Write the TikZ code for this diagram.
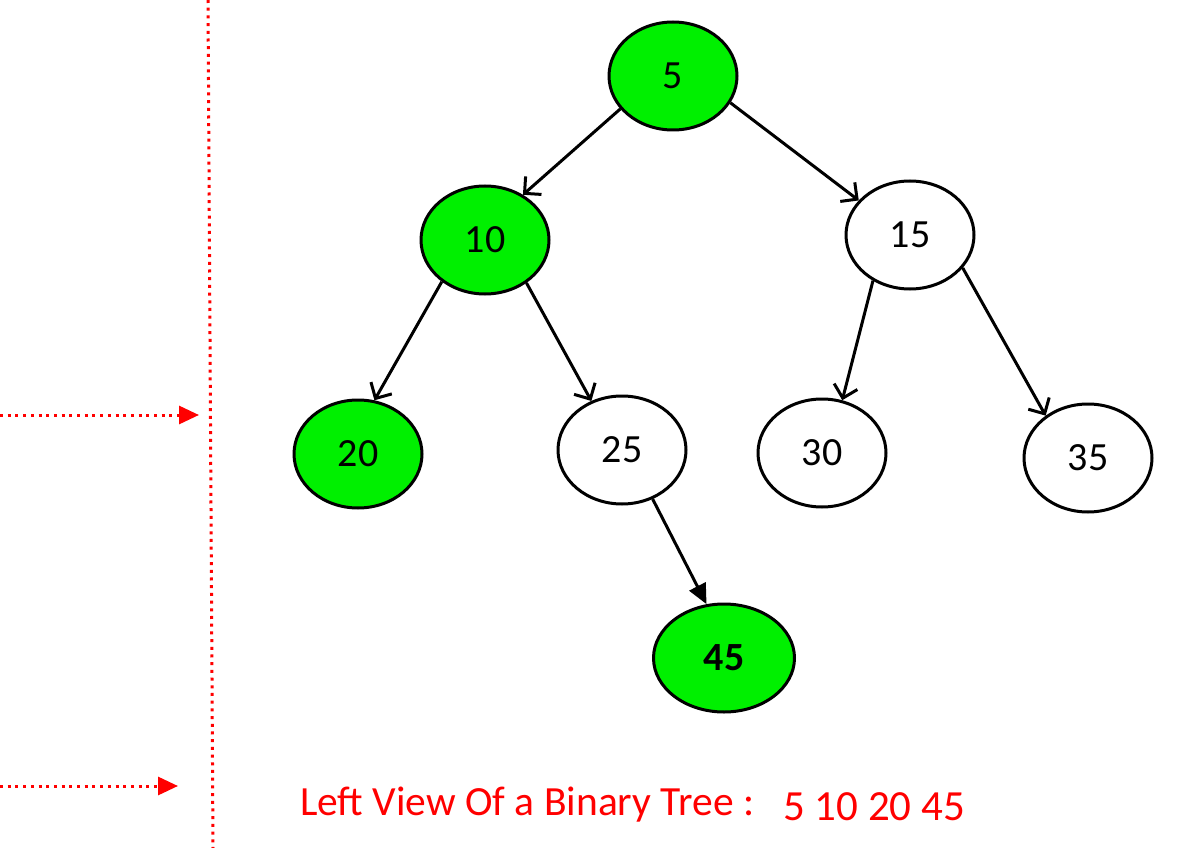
\documentclass[tikz,border=0pt]{standalone}
\usepackage{fontspec}
\setmainfont{Carlito}
\usetikzlibrary{shapes.geometric,arrows.meta}
\definecolor{nodegreen}{RGB}{0,240,0}
\definecolor{viewred}{RGB}{255,0,0}
\tikzset{
  treenode/.style={ellipse, draw=black, line width=3pt, minimum width=128pt, minimum height=108pt, inner sep=0pt, font=\fontsize{40}{44}\selectfont},
  seen/.style={treenode, fill=nodegreen},
  unseen/.style={treenode, fill=white},
  edge/.style={line width=3pt, -{Straight Barb[length=12pt,width=24pt]}},
  solidedge/.style={line width=3pt, -{Triangle[length=20pt,width=18pt]}},
  reddots/.style={viewred, line width=3pt, dash pattern=on 3pt off 4.7pt},
  redarrow/.style={reddots, -{Triangle[length=20pt,width=18pt]}},
}
\begin{document}
\begin{tikzpicture}[x=1pt,y=-1pt]
\useasboundingbox (0,0) rectangle (1192,848);
% tree nodes
\node[seen]   (n5)  at (673,76)  {5};
\node[seen]   (n10) at (485,240) {10};
\node[unseen] (n15) at (910,235) {15};
\node[seen]   (n20) at (358,454) {20};
\node[unseen] (n25) at (622,450) {25};
\node[unseen] (n30) at (822,453) {30};
\node[unseen] (n35) at (1088,458) {35};
\node[seen, minimum width=141pt, font=\fontsize{40}{44}\selectfont\bfseries] (n45) at (724,658) {45};
% edges
\draw[edge] (n5.212) -- (n10.50);
\draw[edge] (n5.335) -- (n15.146);
\draw[edge] (n10.224) -- (n20.73);
\draw[edge] (n10.314) -- (n25.122);
\draw[edge] (n15.231) -- (n30.69);
\draw[edge] (n15.328) -- (n35.135);
\draw[solidedge] (n25.302) -- (n45.108);
% red dotted guides
\coordinate (vtop) at (208,0);
\coordinate (vbot) at (213,848);
\draw[reddots] (vtop) -- (vbot);
\coordinate (a1s) at (0,415);
\coordinate (a1e) at (199,415);
\coordinate (a2s) at (0,786);
\coordinate (a2e) at (178,786);
\draw[redarrow] (a1s) -- (a1e);
\draw[redarrow] (a2s) -- (a2e);
% caption
\node[anchor=base west, inner sep=0pt, text=viewred, font=\fontsize{41.5}{44}\selectfont] (cap) at (300,815) {Left View Of a Binary Tree :};
\node[anchor=base west, inner sep=0pt, text=viewred, font=\fontsize{43}{46}\selectfont] (res) at (783,820) {5 10 20 45};
\end{tikzpicture}
\end{document}
